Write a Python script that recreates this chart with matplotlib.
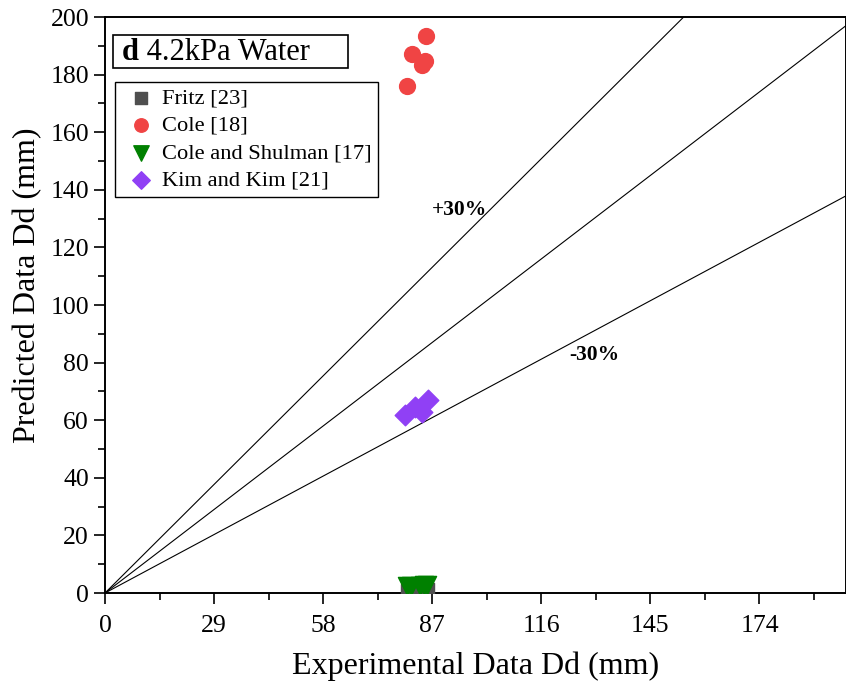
import matplotlib
matplotlib.use('Agg')
import matplotlib.pyplot as plt
import numpy as np
from matplotlib.patches import Rectangle

plt.rcParams['font.family'] = ['Liberation Serif', 'DejaVu Serif']

# Departure diameter Dd (mm): experimental vs. predicted by each correlation
fritz_exp = [80.5, 82.0, 84.5, 85.5]
fritz_pred = [0.8, 0.9, 1.0, 1.1]

cole_exp = [85.4, 81.6, 84.3, 85.1, 80.4]
cole_pred = [193.5, 187.2, 183.3, 184.7, 176.0]

shulman_exp = [80.2, 81.4, 83.8, 84.7, 85.5]
shulman_pred = [2.6, 2.4, 2.5, 2.7, 2.8]

kim_exp = [79.8, 82.5, 84.2, 86.0]
kim_pred = [61.8, 64.6, 62.9, 67.0]

# reference lines: perfect agreement and +/-30 %
ratios = [1.0, 1.3, 0.7]
x_max = 197
x_ticks = [0, 29, 58, 87, 116, 145, 174]

fig = plt.figure(figsize=(8.46, 6.86), dpi=100)
ax = fig.add_axes([105 / 846, 1 - 593 / 686, 741 / 846, 576 / 686])

xs = np.array([0, x_max])
for r in ratios:
    ax.plot(xs, r * xs, color='black', lw=0.8, zorder=1)

ax.scatter(fritz_exp, fritz_pred, marker='s', s=110, color='#4f4f4f',
           label='Fritz [23]', zorder=3)
ax.scatter(cole_exp, cole_pred, marker='o', s=130, color='#f04444',
           label='Cole [18]', zorder=3)
ax.scatter(shulman_exp, shulman_pred, marker='v', s=170, color='#008000',
           label='Cole and Shulman [17]', zorder=4)
ax.scatter(kim_exp, kim_pred, marker='D', s=110, color='#9040f5',
           label='Kim and Kim [21]', zorder=3)

ax.text(94.2, 133, '+30%', fontsize=15.5, fontweight='bold', ha='center', va='center')
ax.text(130.1, 82.6, '-30%', fontsize=15.5, fontweight='bold', ha='center', va='center')

ax.set_xlim(0, x_max)
ax.set_ylim(0, 200)
ax.set_xticks(x_ticks)
ax.set_xticks([t + 14.5 for t in x_ticks], minor=True)
ax.set_yticks(np.arange(0, 201, 20))
ax.set_yticks(np.arange(10, 200, 20), minor=True)
ax.tick_params(which='both', direction='out', labelsize=18.5, width=1.2,
               top=False, right=False)
ax.tick_params(which='major', length=8)
ax.tick_params(which='minor', length=5)
ax.tick_params(axis='x', which='major', pad=8)
for sp in ax.spines.values():
    sp.set_linewidth(1.4)

ax.set_xlabel('Experimental Data Dd (mm)', fontsize=23, labelpad=10)
ax.set_ylabel('Predicted Data Dd (mm)', fontsize=23)
ax.yaxis.set_label_coords(-0.085, 0.535)

# panel label box
ax.add_patch(Rectangle((0.0108, 0.9115), 0.317, 0.0573, transform=ax.transAxes,
                       fill=False, ec='black', lw=1.2, zorder=5))
tag = ax.text(0.0225, 0.938, 'd', transform=ax.transAxes, fontsize=22,
              fontweight='bold', ha='left', va='center', zorder=5)
ax.annotate(' 4.2kPa Water', xy=(1, 0), xycoords=tag, fontsize=22,
            ha='left', va='bottom', zorder=5)

leg = ax.legend(loc='upper left', bbox_to_anchor=(0.0135, 0.887), borderaxespad=0,
                fontsize=16.2, frameon=True, fancybox=False, edgecolor='black',
                framealpha=1, labelspacing=0.3, handlelength=1.8,
                handletextpad=0.05, borderpad=0.25, markerscale=0.85)
leg.get_frame().set_linewidth(1.0)

fig.savefig('out.png', dpi=100)
